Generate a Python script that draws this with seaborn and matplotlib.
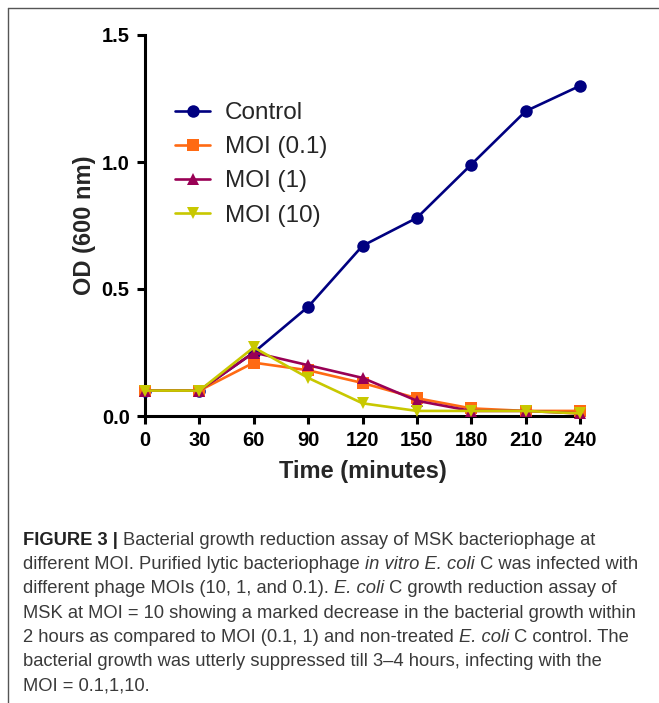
import matplotlib
matplotlib.use("Agg")
import matplotlib.pyplot as plt
import seaborn as sns
import pandas as pd
from matplotlib.lines import Line2D

# Time points (minutes) and OD600 readings for each condition
time_min = [0, 30, 60, 90, 120, 150, 180, 210, 240]
control = [0.10, 0.10, 0.25, 0.43, 0.67, 0.78, 0.99, 1.20, 1.30]
moi_01 = [0.10, 0.10, 0.21, 0.18, 0.13, 0.07, 0.03, 0.02, 0.02]
moi_1 = [0.10, 0.10, 0.25, 0.20, 0.15, 0.06, 0.02, 0.02, 0.01]
moi_10 = [0.10, 0.10, 0.27, 0.15, 0.05, 0.02, 0.02, 0.02, 0.01]

series_names = ["Control", "MOI (0.1)", "MOI (1)", "MOI (10)"]
series_values = [control, moi_01, moi_1, moi_10]
y_ticks = [0.0, 0.5, 1.0, 1.5]

colors = {"Control": "#000080", "MOI (0.1)": "#FF6A13",
          "MOI (1)": "#990055", "MOI (10)": "#C8C800"}
markers = {"Control": "o", "MOI (0.1)": "s", "MOI (1)": "^", "MOI (10)": "v"}

df = pd.concat(
    [pd.DataFrame({"Time": time_min, "OD": vals, "Condition": name})
     for name, vals in zip(series_names, series_values)],
    ignore_index=True,
)

sns.set_style("ticks")
plt.rcParams["font.family"] = ["Liberation Sans", "DejaVu Sans"]

fig = plt.figure(figsize=(6.59, 7.03), dpi=100)
ax = fig.add_axes([145 / 659, 1 - 416 / 703, 435 / 659, 381 / 703])

for name in series_names:
    sub = df[df["Condition"] == name]
    sns.lineplot(data=sub, x="Time", y="OD", ax=ax, color=colors[name],
                 marker=markers[name], markersize=9, markeredgewidth=0,
                 linewidth=1.9, clip_on=False, legend=False, zorder=3)

ax.set_xlim(0, 240)
ax.set_ylim(0, 1.5)
ax.set_xticks(time_min)
ax.set_yticks(y_ticks)
ax.set_yticklabels([f"{v:.1f}" for v in y_ticks])
for s in ["top", "right"]:
    ax.spines[s].set_visible(False)
for s in ["left", "bottom"]:
    ax.spines[s].set_linewidth(2.2)
    ax.spines[s].set_color("black")
ax.tick_params(axis="both", direction="out", length=6, width=2.2,
               labelsize=14.5, pad=5, colors="black")
for lbl in ax.get_xticklabels() + ax.get_yticklabels():
    lbl.set_fontweight("bold")
ax.set_xlabel("Time (minutes)", fontsize=17, fontweight="bold", labelpad=7)
ax.set_ylabel("OD (600 nm)", fontsize=17, fontweight="bold", labelpad=4)

handles = [Line2D([], [], color=colors[n], marker=markers[n], markersize=9,
                  markeredgewidth=0, linewidth=1.9) for n in series_names]
ax.legend(handles, series_names, loc="upper left",
          bbox_to_anchor=(0.069, 0.824), frameon=False, fontsize=17.5,
          borderpad=0, borderaxespad=0,
          handlelength=1.45, handletextpad=0.6, labelspacing=0.5)

# Frame lines around the figure panel
fig.add_artist(Line2D([8 / 659, 8 / 659], [0, 1 - 8 / 703],
                      color="#555555", linewidth=1.0, transform=fig.transFigure))
fig.add_artist(Line2D([8 / 659, 1], [1 - 8 / 703, 1 - 8 / 703],
                      color="#555555", linewidth=1.0, transform=fig.transFigure))

# Caption, drawn run by run so bold and italic pieces sit inline
caption = [
    [("FIGURE 3 | ", "bold"), ("Bacterial growth reduction assay of MSK bacteriophage at", "normal")],
    [("different MOI. Purified lytic bacteriophage ", "normal"), ("in vitro E. coli", "italic"),
     (" C was infected with", "normal")],
    [("different phage MOIs (10, 1, and 0.1). ", "normal"), ("E. coli", "italic"),
     (" C growth reduction assay of", "normal")],
    [("MSK at MOI = 10 showing a marked decrease in the bacterial growth within", "normal")],
    [("2 hours as compared to MOI (0.1, 1) and non-treated ", "normal"), ("E. coli", "italic"),
     (" C control. The", "normal")],
    [("bacterial growth was utterly suppressed till 3\u20134 hours, infecting with the", "normal")],
    [("MOI = 0.1,1,10.", "normal")],
]
cap_size = 13.2
cap_family = ["Liberation Sans Narrow", "Liberation Sans", "DejaVu Sans"]
renderer = fig.canvas.get_renderer()
x0_px, base0_px, step_px = 23, 545, 24.2
for i, runs in enumerate(caption):
    x_px = x0_px
    y_fig = 1 - (base0_px + i * step_px) / 703
    for text, style in runs:
        kw = dict(fontsize=cap_size, family=cap_family, va="baseline", ha="left",
                  color="#3a3a3a" if style != "bold" else "#222222")
        if style == "bold":
            kw["fontweight"] = "bold"
        if style == "italic":
            kw["fontstyle"] = "italic"
        t = fig.text(x_px / 659, y_fig, text, **kw)
        bb = t.get_window_extent(renderer=renderer)
        x_px += bb.width

fig.savefig("out.png", dpi=100)
